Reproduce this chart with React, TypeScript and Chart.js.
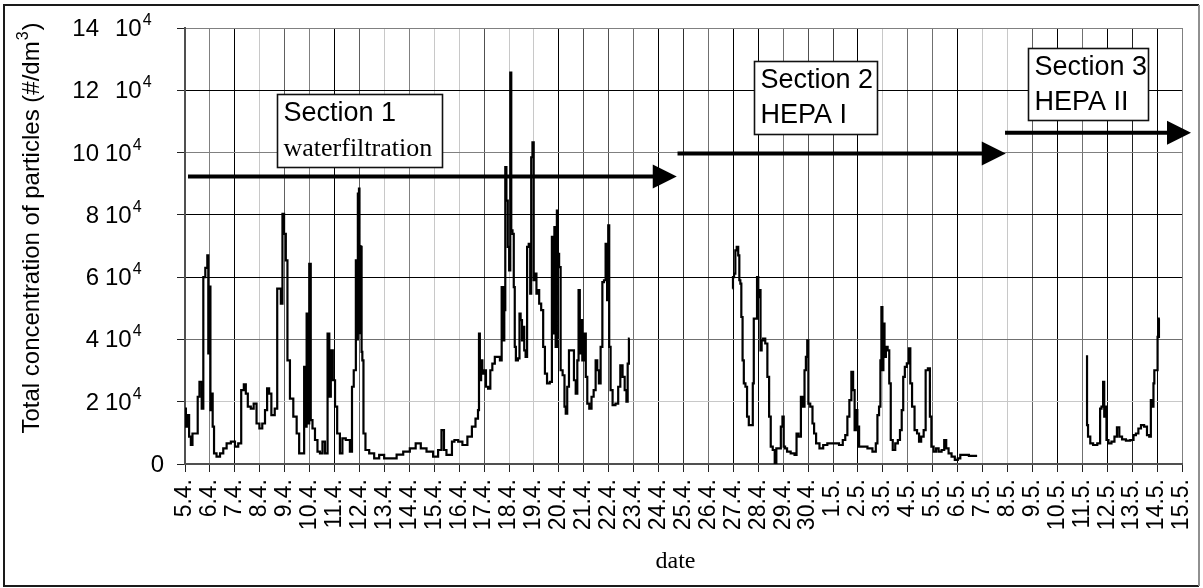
import React, { useEffect, useRef } from "react";
import { Chart, registerables } from "chart.js";

Chart.register(...registerables);

const SANS = '"Liberation Sans", Arial, Helvetica, sans-serif';
const SERIF = '"Liberation Serif", "Times New Roman", serif';

// x categories: one tick per day, 5.4. .. 15.5.
const dateLabels = [
  "5.4.", "6.4.", "7.4.", "8.4.", "9.4.", "10.4.", "11.4.", "12.4.", "13.4.", "14.4.",
  "15.4.", "16.4.", "17.4.", "18.4.", "19.4.", "20.4.", "21.4.", "22.4.", "23.4.", "24.4.",
  "25.4.", "26.4.", "27.4.", "28.4.", "29.4.", "30.4.", "1.5.", "2.5.", "3.5.", "4.5.",
  "5.5.", "6.5.", "7.5.", "8.5.", "9.5.", "10.5.", "11.5.", "12.5.", "13.5.", "14.5.", "15.5.",
];

const yTickValues = [0, 20000, 40000, 60000, 80000, 100000, 120000, 140000];

// Section 1 (water filtration): day offset from 5.4. and concentration (#/dm3)
const section1Days = [
  0, 0.07, 0.13, 0.2, 0.27, 0.33, 0.49, 0.53, 0.63, 0.71, 0.76, 0.87, 0.92, 0.95, 1.0, 1.04, 1.08, 1.14, 1.19, 1.34,
  1.47, 1.6, 1.74, 1.94, 2.07, 2.2, 2.31, 2.41, 2.47, 2.57, 2.71, 2.8, 2.94, 3.03, 3.17, 3.25, 3.34, 3.41, 3.52, 3.68,
  3.72, 3.81, 3.88, 3.94, 4.01, 4.08, 4.14, 4.28, 4.41, 4.55, 4.61, 4.77, 4.79, 4.85, 4.91, 4.96, 5.01, 5.08, 5.15, 5.28,
  5.35, 5.48, 5.55, 5.68, 5.76, 5.82, 5.88, 5.98, 6.06, 6.15, 6.28, 6.35, 6.55, 6.68, 6.72, 6.82, 6.89, 6.92, 6.95, 6.97,
  6.99, 7.01, 7.03, 7.05, 7.07, 7.1, 7.13, 7.19, 7.29, 7.49, 7.69, 7.89, 8.09, 8.36, 8.62, 8.89, 9.15, 9.36, 9.56, 9.82,
  10.09, 10.22, 10.36, 10.42, 10.56, 10.69, 10.73, 10.89, 11.03, 11.23, 11.43, 11.59, 11.72, 11.79, 11.8, 11.86, 11.9, 11.96, 12.03, 12.12,
  12.2, 12.3, 12.36, 12.5, 12.6, 12.67, 12.74, 12.79, 12.83, 12.87, 12.92, 12.98, 13.03, 13.07, 13.11, 13.17, 13.21, 13.25, 13.3, 13.41,
  13.43, 13.5, 13.54, 13.59, 13.63, 13.7, 13.75, 13.83, 13.87, 13.91, 13.97, 14.01, 14.07, 14.13, 14.18, 14.24, 14.34, 14.4, 14.48, 14.57,
  14.7, 14.74, 14.8, 14.84, 14.9, 14.94, 14.98, 15.04, 15.1, 15.2, 15.25, 15.3, 15.37, 15.44, 15.57, 15.64, 15.71, 15.77, 15.81, 15.87,
  15.91, 15.97, 16.05, 16.11, 16.17, 16.27, 16.35, 16.44, 16.51, 16.57, 16.64, 16.71, 16.78, 16.84, 16.91, 16.96, 17.0, 17.04, 17.11, 17.2,
  17.34, 17.42, 17.51, 17.6, 17.68, 17.74, 17.78, 17.84,
];
const section1Values = [
  17800, 12000, 15700, 8800, 6100, 9800, 9800, 21600, 26400, 17800, 60000, 63000, 67000, 35500, 57000, 17300, 22600, 12000, 3400, 2400,
  3400, 5000, 6600, 7200, 5600, 6600, 23700, 25600, 22600, 18400, 17800, 19400, 13000, 11400, 13000, 17300, 24300, 22600, 15700, 17800,
  56300, 56300, 51500, 80300, 73900, 65400, 33300, 21000, 15200, 9800, 3400, 3400, 31200, 12000, 48300, 13000, 64300, 14100, 11400, 7700,
  4000, 3400, 7200, 3400, 41900, 21600, 36500, 26900, 18400, 9800, 3400, 8200, 7700, 4000, 24800, 30100, 65400, 40000, 86800, 55000,
  88400, 42000, 70000, 44000, 69700, 36000, 33300, 9800, 4500, 3400, 1800, 2900, 1800, 1800, 3000, 4000, 5000, 6600, 5000, 4000,
  2400, 4500, 10900, 4500, 2900, 2900, 7200, 7700, 7200, 6100, 8800, 12000, 14600, 17300, 41900, 26900, 33300, 29000, 30100, 24800,
  24200, 30100, 32200, 34400, 34400, 33300, 56800, 39700, 49400, 95300, 84600, 69700, 62200, 125700, 75000, 73900, 56800, 37600, 33300, 33900,
  48300, 46200, 39700, 44000, 36500, 34400, 69700, 70700, 54700, 98500, 103300, 59000, 61100, 54700, 55800, 51500, 49400, 37600, 29000, 25900,
  26400, 72900, 41900, 76100, 37600, 81400, 67500, 63200, 30100, 28500, 18400, 16200, 24800, 36500, 36500, 26900, 22600, 33300, 55800, 35500,
  46200, 33300, 41900, 28000, 19400, 17800, 21600, 23700, 33300, 30100, 25900, 37600, 58400, 59000, 70700, 52600, 76600, 37600, 23700, 18900,
  19400, 24800, 31700, 28000, 23700, 20000, 32200, 40300,
];

// Section 2 (HEPA I)
const section2Days = [
  21.97, 22.0, 22.06, 22.1, 22.17, 22.22, 22.26, 22.3, 22.34, 22.4, 22.44, 22.53, 22.57, 22.67, 22.76, 22.8, 22.84, 22.93, 22.97, 23.03,
  23.07, 23.11, 23.16, 23.23, 23.33, 23.4, 23.47, 23.53, 23.63, 23.69, 23.76, 23.87, 23.94, 24.0, 24.04, 24.11, 24.2, 24.4, 24.51, 24.56,
  24.67, 24.75, 24.83, 24.88, 24.94, 24.99, 25.03, 25.14, 25.21, 25.27, 25.37, 25.54, 25.67, 25.87, 26.14, 26.34, 26.44, 26.54, 26.61, 26.7,
  26.77, 26.84, 26.89, 26.94, 27.01, 27.08, 27.28, 27.48, 27.68, 27.75, 27.81, 27.88, 27.92, 27.96, 28.0, 28.04, 28.09, 28.15, 28.23, 28.28,
  28.35, 28.44, 28.55, 28.65, 28.72, 28.79, 28.84, 28.92, 29.0, 29.08, 29.12, 29.22, 29.32, 29.42, 29.48, 29.59, 29.68, 29.75, 29.86, 29.91,
  29.98, 30.09, 30.18, 30.29, 30.42, 30.5, 30.58, 30.69, 30.82, 30.95, 31.06, 31.15, 31.35, 31.55, 31.78,
];
const section2Values = [
  56300, 60000, 61100, 68600, 69700, 67000, 59000, 57900, 47200, 33300, 25900, 24800, 15200, 12500, 12500, 25900, 46700, 46700, 60000, 53600,
  55800, 36500, 39700, 40300, 38700, 28000, 15200, 5600, 4500, 200, 5000, 5000, 12000, 15200, 5600, 5000, 4000, 3400, 2900, 9800,
  8800, 21600, 18400, 30100, 34400, 39700, 19400, 18400, 13000, 9800, 6600, 5000, 6100, 6600, 6600, 6100, 7700, 9300, 15200, 20500,
  29600, 23700, 10900, 17300, 12000, 5600, 5600, 5000, 4000, 6600, 15700, 18400, 33300, 50400, 30100, 45100, 34400, 37600, 36500, 25900,
  7700, 4500, 6600, 7700, 10900, 17300, 28000, 31200, 32300, 37100, 25900, 18400, 10900, 9800, 7200, 8800, 10900, 30100, 30700, 15200,
  5600, 4000, 5000, 4000, 4500, 7700, 5000, 3400, 2400, 1300, 1800, 2900, 2900, 2600, 2600,
];

// Section 3 (HEPA II)
const section3Days = [
  36.19, 36.19, 36.27, 36.37, 36.5, 36.7, 36.73, 36.81, 36.86, 36.9, 36.94, 37.0, 37.1, 37.24, 37.34, 37.44, 37.53, 37.66, 37.84, 38.01,
  38.1, 38.2, 38.3, 38.41, 38.55, 38.64, 38.73, 38.77, 38.84, 38.87, 38.91, 39.0, 39.04, 39.11,
];
const section3Values = [
  34900, 12500, 8800, 6600, 6100, 6600, 17800, 18400, 26400, 15200, 18400, 7700, 6600, 7200, 8800, 11800, 8800, 7900, 7500, 7700,
  9300, 9800, 11400, 12500, 12000, 9300, 8800, 20500, 18400, 25900, 30100, 30100, 40800, 46700,
];

// Section annotations (in axis units: day offset, concentration)
const sectionTitles = ["Section 1", "Section 2", "Section 3"];
const sectionSubtitles = ["waterfiltration", "HEPA I", "HEPA II"];
const sectionBoxes = [
  { x0: 3.69, x1: 10.31, yTop: 118900, yBottom: 95500 },
  { x0: 22.82, x1: 27.76, yTop: 129500, yBottom: 106100 },
  { x0: 33.81, x1: 38.63, yTop: 133700, yBottom: 110300 },
];
const sectionArrows = [
  { x0: 0.12, x1: 19.73, y: 92300 },
  { x0: 19.76, x1: 32.93, y: 99700 },
  { x0: 32.9, x1: 40.36, y: 106400 },
];

// gridline shades (imitating the scanned original)
const xGridShades = [
  "#404040", "#808080", "#000000", "#c8c8c8", "#606060", "#808080", "#000000", "#606060", "#c8c8c8", "#808080",
  "#c8c8c8", "#c8c8c8", "#505050", "#c8c8c8", "#c8c8c8", "#000000", "#505050", "#505050", "#707070", "#000000",
  "#303030", "#707070", "#000000", "#000000", "#707070", "#505050", "#404040", "#000000", "#c8c8c8", "#707070",
  "#707070", "#000000", "#c8c8c8", "#c8c8c8", "#606060", "#000000", "#707070", "#000000", "#202020", "#000000", "#808080",
];
const yGridShades = ["#404040", "#c8c8c8", "#707070", "#000000", "#000000", "#808080", "#000000", "#808080"];

const toPoints = (xs: number[], ys: number[]) => xs.map((x, i) => ({ x, y: ys[i] }));

const decorPlugin = {
  id: "decor",
  afterDatasetsDraw(chart: any) {
    const ctx = chart.ctx as CanvasRenderingContext2D;
    const xs = chart.scales.x;
    const ys = chart.scales.y;
    ctx.save();
    // arrows
    sectionArrows.forEach((a) => {
      const x0 = xs.getPixelForValue(a.x0);
      const x1 = xs.getPixelForValue(a.x1);
      const y = ys.getPixelForValue(a.y);
      const headLen = 24;
      const headHalf = 12;
      ctx.strokeStyle = "#000";
      ctx.lineWidth = 4;
      ctx.beginPath();
      ctx.moveTo(x0, y);
      ctx.lineTo(x1 - headLen + 2, y);
      ctx.stroke();
      ctx.fillStyle = "#000";
      ctx.beginPath();
      ctx.moveTo(x1, y);
      ctx.lineTo(x1 - headLen, y - headHalf);
      ctx.lineTo(x1 - headLen, y + headHalf);
      ctx.closePath();
      ctx.fill();
    });
    // boxes
    sectionBoxes.forEach((b, i) => {
      const l = Math.round(xs.getPixelForValue(b.x0)) + 0.5;
      const r = Math.round(xs.getPixelForValue(b.x1)) + 0.5;
      const t = Math.round(ys.getPixelForValue(b.yTop)) + 0.5;
      const bt = Math.round(ys.getPixelForValue(b.yBottom)) + 0.5;
      ctx.fillStyle = "#fff";
      ctx.fillRect(l, t, r - l, bt - t);
      ctx.strokeStyle = "#111";
      ctx.lineWidth = 1.6;
      ctx.strokeRect(l, t, r - l, bt - t);
      ctx.fillStyle = "#000";
      ctx.textAlign = "left";
      ctx.textBaseline = "alphabetic";
      ctx.font = `27px ${SANS}`;
      ctx.fillText(sectionTitles[i], l + 6, t + 26);
      ctx.font = i === 0 ? `26px ${SERIF}` : `27px ${SANS}`;
      ctx.fillText(sectionSubtitles[i], l + 6, t + 61);
    });
    ctx.restore();
  },
  afterDraw(chart: any) {
    const ctx = chart.ctx as CanvasRenderingContext2D;
    const ys = chart.scales.y;
    const xs = chart.scales.x;
    ctx.save();
    ctx.fillStyle = "#000";
    ctx.textBaseline = "alphabetic";
    // y tick labels "N 10^4"
    yTickValues.forEach((v) => {
      const py = ys.getPixelForValue(v);
      const base = py + 8;
      const coef = v / 10000;
      ctx.font = `24px ${SANS}`;
      if (coef === 0) {
        ctx.textAlign = "right";
        ctx.fillText("0", 164, base);
        return;
      }
      ctx.textAlign = "right";
      ctx.fillText(String(coef), 99, base);
      const tenX = coef >= 12 ? 115 : 105;
      ctx.textAlign = "left";
      ctx.fillText("10", tenX, base);
      const w = ctx.measureText("10").width;
      ctx.font = `16px ${SANS}`;
      ctx.fillText("4", tenX + w + 1, base - 11);
    });
    // y axis title with superscript
    const t1 = "Total concentration of particles (#/dm";
    const t2 = "3";
    const t3 = ")";
    ctx.save();
    ctx.translate(39, 229);
    ctx.rotate(-Math.PI / 2);
    ctx.font = `24px ${SANS}`;
    const w1 = ctx.measureText(t1).width;
    const w3 = ctx.measureText(t3).width;
    ctx.font = `16px ${SANS}`;
    const w2 = ctx.measureText(t2).width;
    let cx = -(w1 + w2 + w3) / 2;
    ctx.textAlign = "left";
    ctx.font = `24px ${SANS}`;
    ctx.fillText(t1, cx, 0);
    cx += w1;
    ctx.font = `16px ${SANS}`;
    ctx.fillText(t2, cx + 1, -11);
    cx += w2 + 2;
    ctx.font = `24px ${SANS}`;
    ctx.fillText(t3, cx, 0);
    ctx.restore();
    // x axis title
    ctx.font = `24px ${SERIF}`;
    ctx.textAlign = "center";
    ctx.fillText("date", xs.left + (xs.right - xs.left) / 2 - 8, 568);
    // outer frame
    ctx.lineWidth = 2;
    ctx.strokeStyle = "#1a1a1a";
    ctx.beginPath();
    ctx.moveTo(1199, 5);
    ctx.lineTo(4, 5);
    ctx.lineTo(4, 586);
    ctx.lineTo(1199, 586);
    ctx.stroke();
    ctx.strokeStyle = "#909090";
    ctx.beginPath();
    ctx.moveTo(1199, 5);
    ctx.lineTo(1199, 586);
    ctx.stroke();
    ctx.restore();
  },
};

export default function App() {
  const canvasRef = useRef<HTMLCanvasElement | null>(null);

  useEffect(() => {
    if (!canvasRef.current) return;
    const lineStyle = {
      borderColor: "#000",
      borderWidth: 2.2,
      pointRadius: 0,
      tension: 0,
      stepped: "middle" as const,
      fill: false,
    };
    const chart = new Chart(canvasRef.current, {
      type: "line",
      data: {
        datasets: [
          { label: "Section 1", data: toPoints(section1Days, section1Values), ...lineStyle },
          { label: "Section 2", data: toPoints(section2Days, section2Values), ...lineStyle },
          { label: "Section 3", data: toPoints(section3Days, section3Values), ...lineStyle },
        ],
      },
      options: {
        animation: false,
        responsive: false,
        events: [],
        layout: { padding: { top: 28, right: 21, left: 0, bottom: 0 } },
        plugins: { legend: { display: false }, tooltip: { enabled: false } },
        scales: {
          x: {
            type: "linear",
            min: 0,
            max: dateLabels.length - 1,
            afterBuildTicks: (s: any) => {
              s.ticks = dateLabels.map((_, i) => ({ value: i }));
            },
            afterFit: (s: any) => {
              s.height = 124;
              s.paddingLeft = 0;
              s.paddingRight = 0;
            },
            ticks: {
              autoSkip: false,
              maxRotation: 90,
              minRotation: 90,
              padding: 7,
              color: "#000",
              font: { family: SANS, size: 23 },
              callback: (v: any) => dateLabels[Math.round(Number(v))] ?? "",
            },
            grid: {
              color: (c: any) => xGridShades[c.index] ?? "#808080",
              lineWidth: 1,
              drawTicks: true,
              tickLength: 8,
              tickColor: "#222",
            },
            border: { color: "#505050", width: 2 },
          },
          y: {
            type: "linear",
            min: 0,
            max: 140000,
            afterBuildTicks: (s: any) => {
              s.ticks = yTickValues.map((v) => ({ value: v }));
            },
            afterFit: (s: any) => {
              s.width = 185;
              s.paddingTop = 0;
              s.paddingBottom = 0;
            },
            ticks: { display: false },
            grid: {
              color: (c: any) => yGridShades[c.index] ?? "#808080",
              lineWidth: 1,
              drawTicks: true,
              tickLength: 8,
              tickColor: "#222",
            },
            border: { color: "#505050", width: 2 },
          },
        },
      },
      plugins: [decorPlugin],
    });
    return () => chart.destroy();
  }, []);

  return (
    <div style={{ position: "absolute", left: 0, top: 0, width: 1203, height: 588, background: "#fff" }}>
      <canvas ref={canvasRef} width={1203} height={588} style={{ display: "block" }} />
    </div>
  );
}
